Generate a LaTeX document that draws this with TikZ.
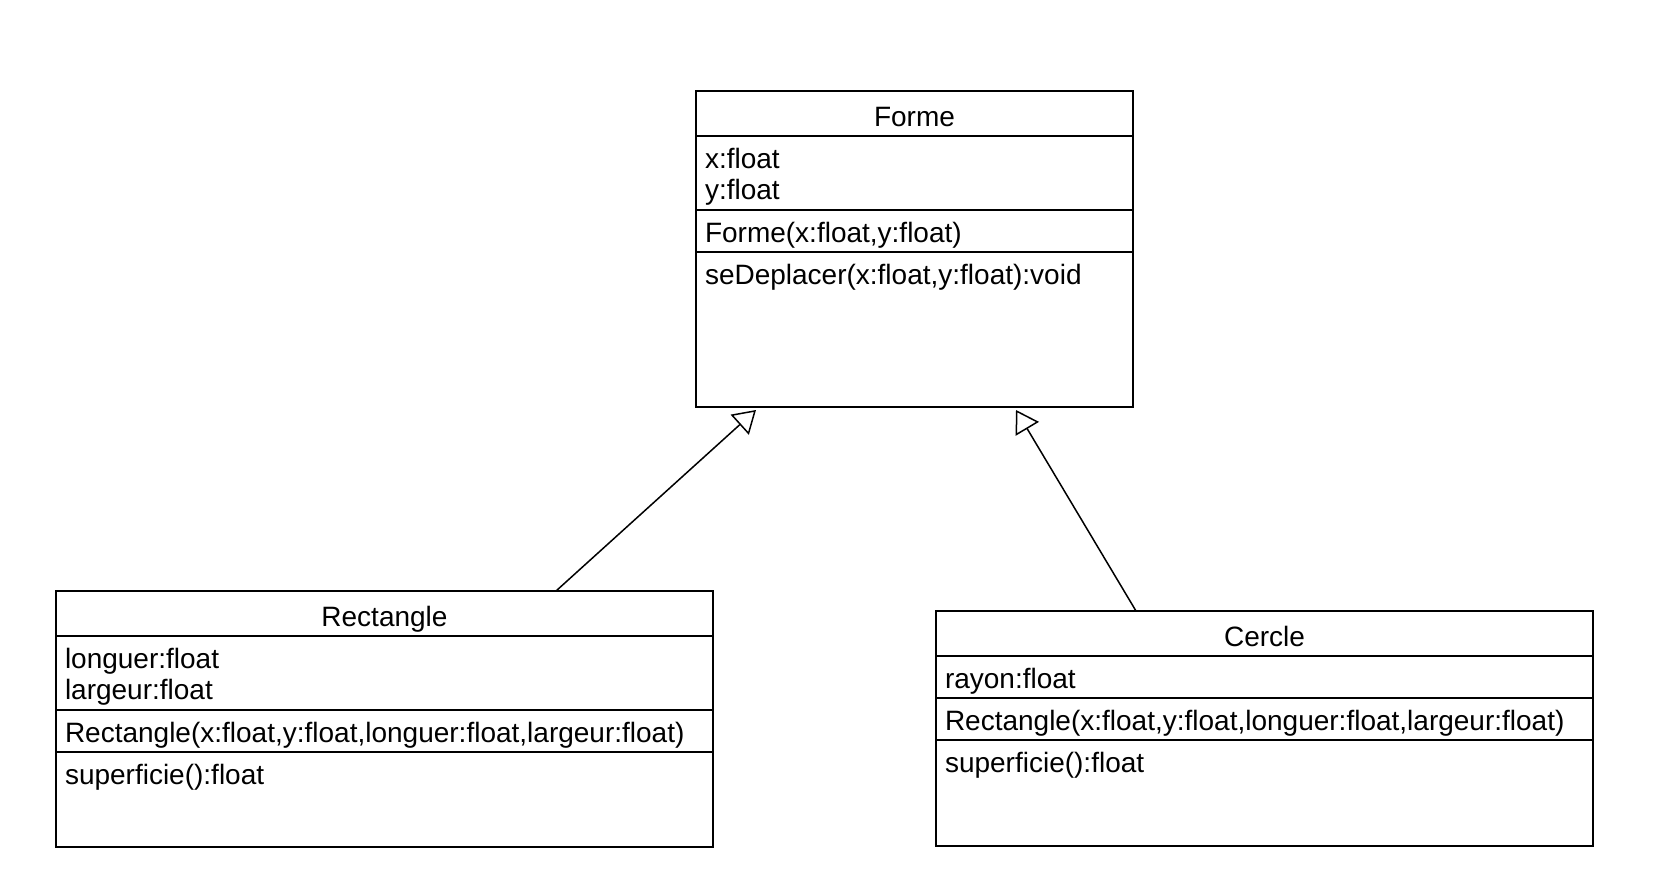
\documentclass[tikz,border=0pt]{standalone}
\usepackage{fontspec}
\setmainfont{Liberation Sans}
\usepackage{tikz}
\usetikzlibrary{positioning, arrows.meta}

\tikzset{
  compart/.style={draw, line width=0.75pt, outer sep=0pt, inner xsep=4.5pt, inner ysep=0pt,
    align=left, text height=16.2pt, text depth=4.8pt, font=\fontsize{14}{15.5}\selectfont},
  classname/.style={compart, align=center, text height=17.6pt, text depth=4.9pt},
  inherits/.style={line width=0.75pt, -{Triangle[open, length=11pt, width=13.5pt]}}
}

\begin{document}
\begin{tikzpicture}
\useasboundingbox (0,0) rectangle (827.5pt,-440.5pt);
\node[classname, text width=209.5pt, anchor=north west] (FormeTitle) at (348pt,-45.5pt) {Forme};
\node[compart, text width=209.5pt, text depth=20.8pt, below=0pt of FormeTitle] (FormeAttr) {x:float\\y:float};
\node[compart, text width=209.5pt, below=0pt of FormeAttr] (FormeCtor) {Forme(x:float,y:float)};
\node[compart, text width=209.5pt, text depth=61.3pt, below=0pt of FormeCtor] (FormeOps) {seDeplacer(x:float,y:float):void};
\node[classname, text width=319.5pt, anchor=north west] (RectangleTitle) at (28pt,-295.5pt) {Rectangle};
\node[compart, text width=319.5pt, text depth=20.8pt, below=0pt of RectangleTitle] (RectangleAttr) {longuer:float\\largeur:float};
\node[compart, text width=319.5pt, below=0pt of RectangleAttr] (RectangleCtor) {Rectangle(x:float,y:float,longuer:float,largeur:float)};
\node[compart, text width=319.5pt, text depth=31.3pt, below=0pt of RectangleCtor] (RectangleOps) {superficie():float};
\node[classname, text width=319.5pt, anchor=north west] (CercleTitle) at (468pt,-305.5pt) {Cercle};
\node[compart, text width=319.5pt, below=0pt of CercleTitle] (CercleAttr) {rayon:float};
\node[compart, text width=319.5pt, below=0pt of CercleAttr] (CercleCtor) {Rectangle(x:float,y:float,longuer:float,largeur:float)};
\node[compart, text width=319.5pt, text depth=36.8pt, below=0pt of CercleCtor] (CercleOps) {superficie():float};
\draw[inherits] ([xshift=85.75pt]RectangleTitle.north) -- ([xshift=30pt, yshift=-1.5pt]FormeOps.south west);
\draw[inherits] ([xshift=-64.25pt]CercleTitle.north) -- ([xshift=-58.5pt, yshift=-1.5pt]FormeOps.south east);
\end{tikzpicture}
\end{document}
